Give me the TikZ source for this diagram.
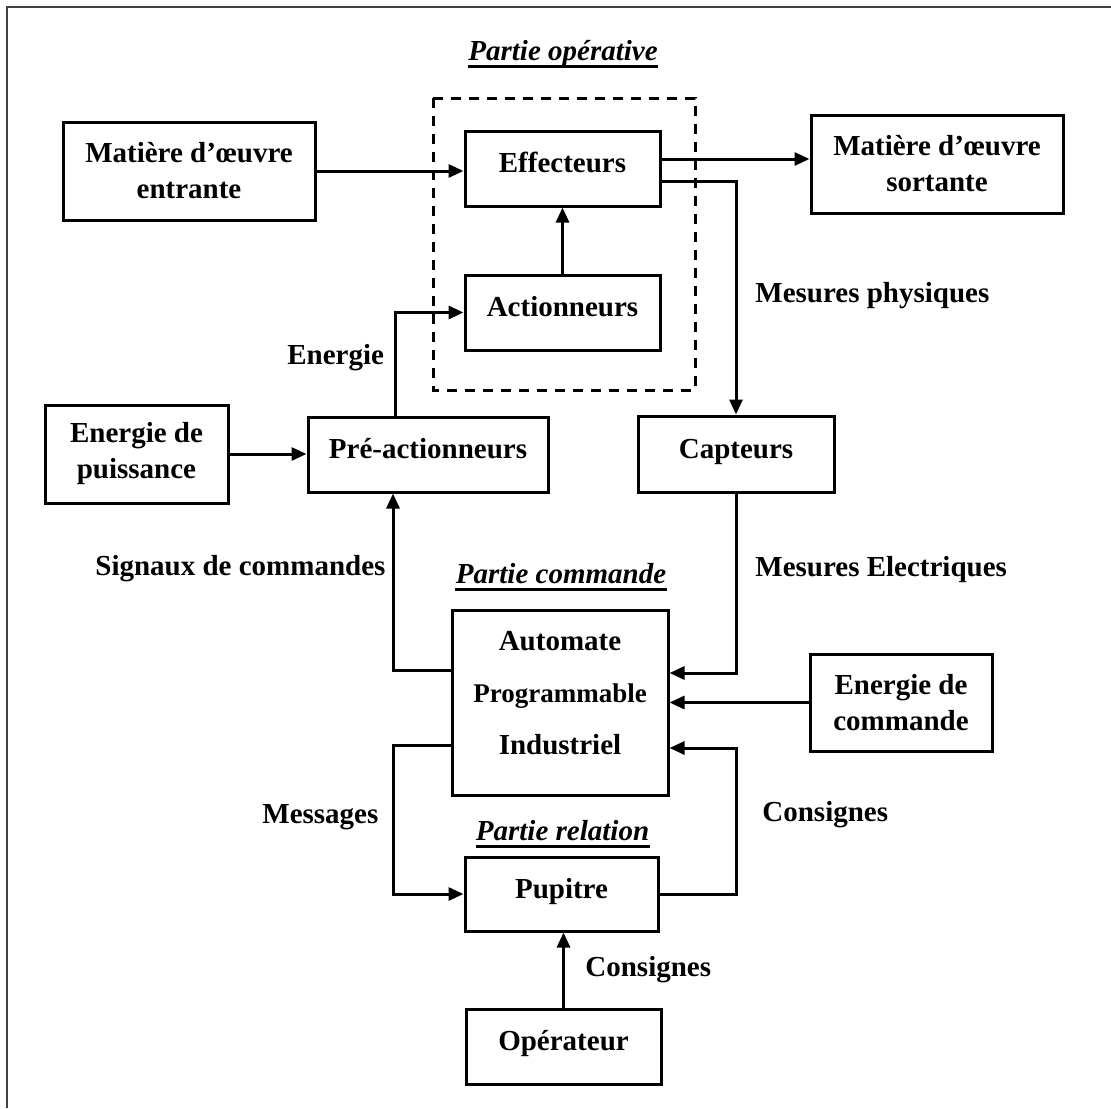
\documentclass[tikz,border=0pt]{standalone}
\usepackage{fontspec}
\setmainfont{Liberation Serif}
\usetikzlibrary{arrows.meta,positioning}

\begin{document}
\begin{tikzpicture}[x=0.5pt,y=-0.5pt,
    bloc/.style={draw, line width=1.5pt, align=center, inner sep=2pt,
      font=\fontsize{14.5}{18}\selectfont\bfseries},
    haut/.style={text height=10pt, text depth=6pt},
    lbl/.style={anchor=west, inner sep=0pt, font=\fontsize{14.5}{17}\selectfont\bfseries},
    titre/.style={anchor=base, inner sep=0pt, font=\fontsize{14.5}{17}\selectfont\bfseries\itshape},
    fl/.style={line width=1.5pt, -{Triangle[length=7.5pt,width=6.5pt]}},
    trait/.style={line width=1.5pt}]
  \useasboundingbox (0,0) rectangle (1111,1108);
  % cadre
  \draw[line width=1pt, black!75] (7,1108) -- (7,7) -- (1111,7);

  % partie operative
  \node[titre] (tpo) at (563,60) {Partie opérative};
  \draw[line width=1.2pt] ([yshift=-3.2pt]tpo.base west) -- ([yshift=-3.2pt]tpo.base east);
  \draw[trait, dashed, dash pattern=on 5pt off 4pt] (433,98) rectangle (695,390);
  \node[bloc, haut, minimum width=97.5pt, minimum height=37.5pt] (effect) at (562.5,168.5) {Effecteurs};
  \node[bloc, haut, minimum width=97.5pt, minimum height=37.5pt] (action) at (562.5,312.5) {Actionneurs};
  \node[bloc, minimum width=126pt, minimum height=49pt] (entree) at (189,171) {Matière d’œuvre\\entrante};
  \node[bloc, minimum width=126pt, minimum height=49pt] (sortie) at (937,164) {Matière d’œuvre\\sortante};
  \node[bloc, haut, minimum width=120pt, minimum height=37.5pt] (preact) at (428,454.5) {Pré-actionneurs};
  \node[bloc, minimum width=91.5pt, minimum height=49pt] (puiss) at (136.5,454) {Energie de\\puissance};
  \node[bloc, haut, minimum width=98pt, minimum height=38pt] (capt) at (736,454) {Capteurs};

  % partie commande
  \node[titre] (tpc) at (561,583) {Partie commande};
  \draw[line width=1.2pt] ([yshift=-3.2pt]tpc.base west) -- ([yshift=-3.2pt]tpc.base east);
  \node[bloc, minimum width=108pt, minimum height=92.5pt] (api) at (560,702.5)
    {\begin{tabular}{@{}c@{}}Automate\\[8pt]{\fontsize{13.5}{17}\selectfont Programmable}\\[8pt]Industriel\\[7pt]\end{tabular}};
  \node[bloc, minimum width=91pt, minimum height=48.5pt] (cmde) at (901,702.5) {Energie de\\commande};

  % partie relation
  \node[titre] (tpr) at (562.5,840) {Partie relation};
  \draw[line width=1.2pt] ([yshift=-3.2pt]tpr.base west) -- ([yshift=-3.2pt]tpr.base east);
  \node[bloc, haut, minimum width=96.5pt, minimum height=37pt] (pupit) at (561.5,894) {Pupitre};
  \node[bloc, haut, minimum width=97.5pt, minimum height=37.5pt] (oper) at (563.5,1046.5) {Opérateur};

  % liaisons
  \draw[fl] (entree.east) -- (entree.east -| effect.west);
  \draw[fl] (effect.east |- 0,159) -- (sortie.west |- 0,159);
  \draw[fl] (effect.east |- 0,181) -| (capt.north);
  \draw[fl] (action.north) -- (effect.south);
  \draw[fl] (preact.north -| 395,0) |- (action.west);
  \draw[fl] (puiss.east) -- (puiss.east -| preact.west);
  \draw[fl] (api.west |- 0,670) -| (preact.south -| 393,0);
  \draw[fl] (capt.south) |- (api.east |- 0,673);
  \draw[fl] (cmde.west) -- (cmde.west -| api.east);
  \draw[fl] (pupit.east) -- (pupit.east -| capt.south) |- (api.east |- 0,748);
  \draw[fl] (api.west |- 0,745) -- (393,745) |- (pupit.west);
  \draw[fl] (oper.north) -- (oper.north |- pupit.south);

  % etiquettes
  \node[lbl] (lmp) at (755,296) {Mesures physiques};
  \node[lbl] (len) at (287,358) {Energie};
  \node[lbl] (lsc) at (95,569) {Signaux de commandes};
  \node[lbl] (lme) at (755,570) {Mesures Electriques};
  \node[lbl] (lc1) at (762,815) {Consignes};
  \node[lbl] (lms) at (262,817) {Messages};
  \node[lbl] (lc2) at (585,970) {Consignes};
\end{tikzpicture}
\end{document}
